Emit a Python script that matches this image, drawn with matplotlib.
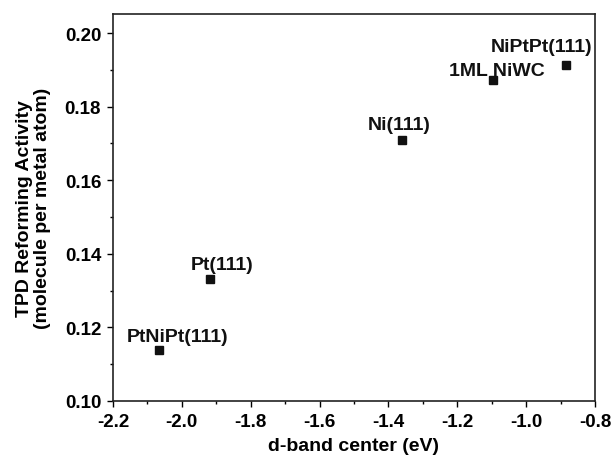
import numpy as np
import matplotlib.pyplot as plt
from matplotlib.ticker import MultipleLocator

plt.rcParams['font.family'] = ['Liberation Sans', 'DejaVu Sans']
plt.rcParams['font.weight'] = 'bold'

labels = ['PtNiPt(111)', 'Pt(111)', 'Ni(111)', '1ML NiWC', 'NiPtPt(111)']
d_band = [-2.066, -1.918, -1.360, -1.096, -0.883]
activity = [0.1139, 0.1331, 0.1710, 0.1872, 0.1914]
# label offsets in pixels (dx, dy) relative to each marker
offsets = [(18, 13), (12, 15), (-3, 15), (4, 10), (-25, 18)]

fig, ax = plt.subplots(figsize=(6.12, 4.56), dpi=100)
fig.subplots_adjust(left=113/612, right=595/612, top=1-15/456, bottom=1-402/456)

ax.plot(d_band, activity, 's', color='#111111', markersize=6, linestyle='none')
for lab, x, y, (dx, dy) in zip(labels, d_band, activity, offsets):
    ax.annotate(lab, (x, y), xytext=(dx * 0.72, dy * 0.72), textcoords='offset points',
                ha='center', va='center', fontsize=14, fontweight='bold', color='#111111')

ax.set_xlim(-2.2, -0.8)
ax.set_ylim(0.10, 0.2052)
ax.xaxis.set_major_locator(MultipleLocator(0.2))
ax.xaxis.set_minor_locator(MultipleLocator(0.1))
ax.yaxis.set_major_locator(MultipleLocator(0.02))
ax.yaxis.set_minor_locator(MultipleLocator(0.01))
ax.tick_params(which='major', direction='out', length=4.5, width=1, labelsize=13.5, pad=4)
ax.tick_params(which='minor', direction='out', length=2.5, width=1)
ax.set_xticklabels([f'{v:.1f}' for v in ax.get_xticks()], fontweight='bold')
ax.set_yticklabels([f'{v:.2f}' for v in ax.get_yticks()], fontweight='bold')
for sp in ax.spines.values():
    sp.set_linewidth(1.2)
    sp.set_color('#222222')

ax.set_xlabel('d-band center (eV)', fontsize=14, fontweight='bold', labelpad=5)
ax.set_ylabel('TPD Reforming Activity\n(molecule per metal atom)', fontsize=14,
              fontweight='bold', labelpad=10, linespacing=1.1)

fig.savefig('out.png', dpi=100)
